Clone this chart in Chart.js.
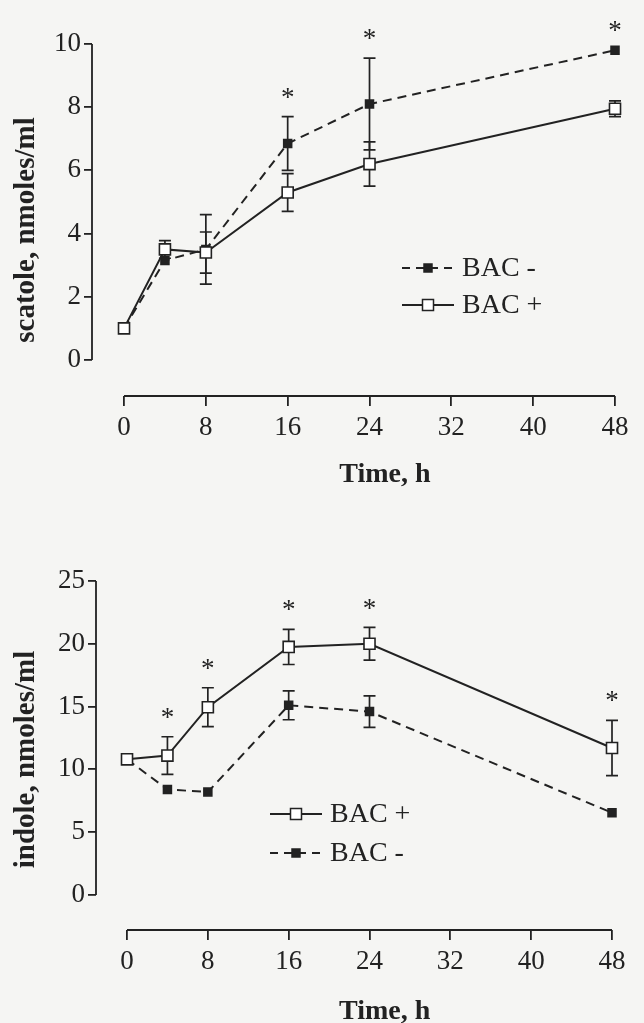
<!DOCTYPE html>
<html>
<head>
<meta charset="utf-8">
<script src="https://cdn.jsdelivr.net/npm/chart.js@4.4.1/dist/chart.umd.min.js"></script>
<style>
  html, body { margin: 0; padding: 0; background: #f5f5f3; }
  .box { position: absolute; left: 0; width: 644px; }
  #top-box { top: 0; height: 500px; }
  #bottom-box { top: 510px; height: 513px; }
</style>
</head>
<body>
<div class="box" id="top-box"><canvas id="scatole-chart" width="644" height="500"></canvas></div>
<div class="box" id="bottom-box"><canvas id="indole-chart" width="644" height="513"></canvas></div>
<script>
// valeurs (heures, moyennes, barres d'erreur)
var hours = [0, 4, 8, 16, 24, 48];
var timeTicks = [0, 8, 16, 24, 32, 40, 48];

var scatoleTicks = [0, 2, 4, 6, 8, 10];
var scatoleBacMinus = [1.0, 3.15, 3.5, 6.85, 8.1, 9.8];
var scatoleBacMinusErr = [0, 0, 1.1, 0.85, 1.45, 0];
var scatoleBacPlus = [1.0, 3.5, 3.4, 5.3, 6.2, 7.95];
var scatoleBacPlusErr = [0, 0.28, 0.65, 0.6, 0.7, 0.25];
var scatoleSignif = [16, 24, 48];

var indoleTicks = [0, 5, 10, 15, 20, 25];
var indoleBacPlus = [10.8, 11.1, 14.95, 19.75, 20.0, 11.7];
var indoleBacPlusErr = [0, 1.5, 1.55, 1.4, 1.3, 2.2];
var indoleBacMinus = [10.8, 8.4, 8.2, 15.1, 14.6, 6.55];
var indoleBacMinusErr = [0, 0, 0, 1.15, 1.25, 0];
var indoleSignif = [4, 8, 16, 24, 48];

var ink = '#222';
var serif = "'Liberation Serif', 'DejaVu Serif', serif";

function drawMarker(ctx, x, y, filled) {
  var s = filled ? 4 : 5.5;
  ctx.setLineDash([]);
  ctx.fillStyle = filled ? ink : '#fff';
  ctx.fillRect(x - s, y - s, 2 * s, 2 * s);
  ctx.lineWidth = 1.5;
  ctx.strokeRect(x - s, y - s, 2 * s, 2 * s);
}

// axes, barres d'erreur, astérisques, titres et légende
var figurePlugin = {
  id: 'figure',
  beforeDatasetsDraw: function(chart, args, o) {
    var ctx = chart.ctx, xs = chart.scales.x, ys = chart.scales.y, area = chart.chartArea;
    ctx.save();
    ctx.strokeStyle = ink;
    ctx.lineWidth = 1.8;
    ctx.setLineDash([]);
    ctx.beginPath();
    ctx.moveTo(area.left, ys.getPixelForValue(o.yTicks[o.yTicks.length - 1]));
    ctx.lineTo(area.left, ys.getPixelForValue(o.yTicks[0]));
    ctx.moveTo(xs.getPixelForValue(timeTicks[0]), area.bottom);
    ctx.lineTo(xs.getPixelForValue(timeTicks[timeTicks.length - 1]), area.bottom);
    ctx.stroke();

    ctx.lineWidth = 1.7;
    o.series.forEach(function(s) {
      hours.forEach(function(h, i) {
        var e = s.err[i];
        if (!e) return;
        var px = xs.getPixelForValue(h);
        var top = ys.getPixelForValue(s.values[i] + e);
        var bot = ys.getPixelForValue(s.values[i] - e);
        ctx.beginPath();
        ctx.moveTo(px, top); ctx.lineTo(px, bot);
        ctx.moveTo(px - 6, top); ctx.lineTo(px + 6, top);
        ctx.moveTo(px - 6, bot); ctx.lineTo(px + 6, bot);
        ctx.stroke();
      });
    });
    ctx.restore();
  },
  afterDatasetsDraw: function(chart, args, o) {
    var ctx = chart.ctx, xs = chart.scales.x, ys = chart.scales.y, area = chart.chartArea;
    ctx.save();
    ctx.fillStyle = ink;
    ctx.font = '27px ' + serif;
    ctx.textAlign = 'center';
    ctx.textBaseline = 'middle';
    o.signif.forEach(function(h) {
      var i = hours.indexOf(h);
      var hi = Math.max.apply(null, o.series.map(function(s) { return s.values[i] + s.err[i]; }));
      ctx.fillText('*', xs.getPixelForValue(h), ys.getPixelForValue(hi) - 18);
    });

    // titres des axes
    ctx.font = 'bold 28px ' + serif;
    ctx.fillText('Time, h', xs.getPixelForValue(25.5), area.bottom + o.xTitleGap);
    ctx.save();
    ctx.translate(27, (area.top + area.bottom) / 2 + o.yTitleShift);
    ctx.rotate(-Math.PI / 2);
    ctx.font = 'bold 29px ' + serif;
    ctx.fillText(o.yTitle, 0, 0);
    ctx.restore();

    // légende
    ctx.strokeStyle = ink;
    ctx.font = '28px ' + serif;
    ctx.textAlign = 'left';
    o.legendOrder.forEach(function(idx, row) {
      var s = o.series[idx];
      var y = o.legendY + row * o.legendGap;
      var x0 = o.legendX, x1 = o.legendX + 52;
      ctx.lineWidth = 2;
      ctx.setLineDash(s.dashed ? [8, 6] : []);
      ctx.beginPath();
      ctx.moveTo(x0, y); ctx.lineTo(x1, y);
      ctx.stroke();
      drawMarker(ctx, (x0 + x1) / 2, y, s.dashed);
      ctx.fillStyle = ink;
      ctx.fillText(s.label, x1 + 8, y + 1);
    });
    ctx.restore();
  }
};

function createChart(chartId, cfg) {
  var ctx = document.getElementById(chartId).getContext('2d');
  var datasets = cfg.series.map(function(s) {
    return {
      label: s.label,
      data: hours.map(function(h, i) { return { x: h, y: s.values[i] }; }),
      borderColor: ink,
      borderWidth: 2,
      borderDash: s.dashed ? [9, 6] : [],
      pointStyle: 'rect',
      pointRadius: s.dashed ? 5.6 : 7.8,
      pointBackgroundColor: s.dashed ? ink : '#fff',
      pointBorderColor: ink,
      pointBorderWidth: 1.6,
      tension: 0,
      clip: false
    };
  });
  new Chart(ctx, {
    type: 'line',
    data: { datasets: datasets },
    options: {
      responsive: false,
      animation: false,
      layout: { padding: { left: 0, top: cfg.padTop, right: cfg.padRight, bottom: 0 } },
      plugins: {
        legend: { display: false },
        tooltip: { enabled: false },
        figure: {
          series: cfg.series, yTicks: cfg.yTicks, signif: cfg.signif, yTitle: cfg.yTitle,
          xTitleGap: cfg.xTitleGap, yTitleShift: cfg.yTitleShift,
          legendOrder: cfg.legendOrder, legendX: cfg.legendX, legendY: cfg.legendY, legendGap: cfg.legendGap
        }
      },
      scales: {
        x: {
          type: 'linear',
          min: cfg.xMin,
          max: 48,
          afterBuildTicks: function(scale) { scale.ticks = timeTicks.map(function(v) { return { value: v }; }); },
          afterFit: function(scale) { scale.height = cfg.xHeight; },
          grid: { drawOnChartArea: false, tickLength: 10, color: ink, lineWidth: 1.8 },
          border: { display: false },
          ticks: { color: ink, font: { family: serif, size: 27 }, padding: 6, maxRotation: 0, autoSkip: false }
        },
        y: {
          min: cfg.yMin,
          max: cfg.yTicks[cfg.yTicks.length - 1],
          afterBuildTicks: function(scale) { scale.ticks = cfg.yTicks.map(function(v) { return { value: v }; }); },
          afterFit: function(scale) { scale.width = cfg.yWidth; },
          grid: { drawOnChartArea: false, tickLength: 8, color: ink, lineWidth: 1.8 },
          border: { display: false },
          ticks: { color: ink, font: { family: serif, size: 27 }, padding: 3 }
        }
      }
    },
    plugins: [figurePlugin]
  });
}

window.addEventListener('load', function() {
  // BAC + en premier pour que les carrés blancs restent au-dessus
  createChart('scatole-chart', {
    yTitle: 'scatole, nmoles/ml',
    yTicks: scatoleTicks, yMin: -1.14, xMin: -3.13,
    padTop: 44, padRight: 29, xHeight: 104, yWidth: 92,
    xTitleGap: 79, yTitleShift: 10,
    series: [
      { label: 'BAC +', values: scatoleBacPlus, err: scatoleBacPlusErr, dashed: false },
      { label: 'BAC -', values: scatoleBacMinus, err: scatoleBacMinusErr, dashed: true }
    ],
    signif: scatoleSignif,
    legendOrder: [1, 0], legendX: 402, legendY: 268, legendGap: 37
  });

  createChart('indole-chart', {
    yTitle: 'indole, nmoles/ml',
    yTicks: indoleTicks, yMin: -2.79, xMin: -3.07,
    padTop: 71, padRight: 32, xHeight: 93, yWidth: 96,
    xTitleGap: 82, yTitleShift: 4,
    series: [
      { label: 'BAC +', values: indoleBacPlus, err: indoleBacPlusErr, dashed: false },
      { label: 'BAC -', values: indoleBacMinus, err: indoleBacMinusErr, dashed: true }
    ],
    signif: indoleSignif,
    legendOrder: [0, 1], legendX: 270, legendY: 304, legendGap: 39
  });
});
</script>
</body>
</html>
